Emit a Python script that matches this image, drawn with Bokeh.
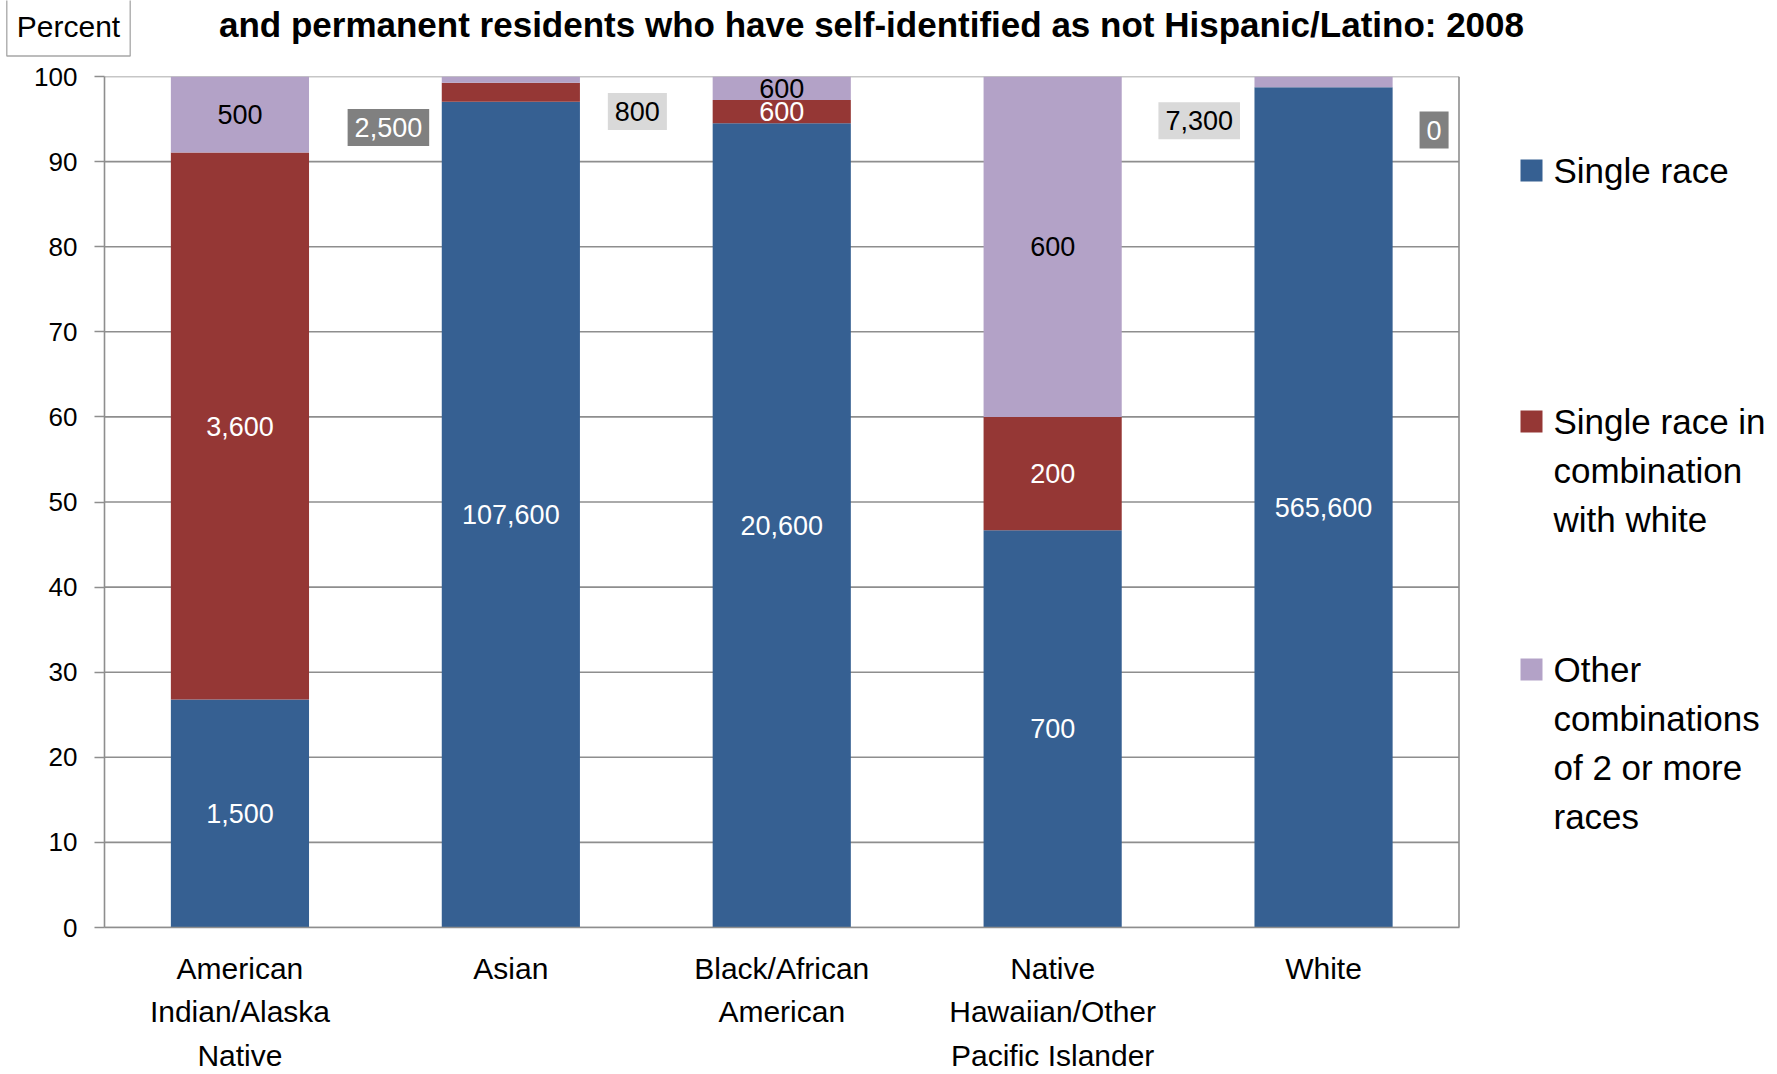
from bokeh.plotting import figure
from bokeh.layouts import column
from bokeh.models import Range1d, FixedTicker, ColumnDataSource
from bokeh.core.properties import value
from bokeh.embed import file_html
from bokeh.resources import INLINE

# ---------------- data ----------------
categories = ["American\nIndian/Alaska\nNative", "Asian", "Black/African\nAmerican",
              "Native\nHawaiian/Other\nPacific Islander", "White"]
single_race = [1500, 107600, 20600, 700, 565600]
combo_white = [3600, 2500, 600, 200, 0]
other_combos = [500, 800, 600, 600, 7300]
series_names = ["Single race", "Single race in\ncombination\nwith white",
                "Other\ncombinations\nof 2 or more\nraces"]
y_ticks = [0, 10, 20, 30, 40, 50, 60, 70, 80, 90, 100]
title_text = "and permanent residents who have self-identified as not Hispanic/Latino: 2008"
y_unit_text = "Percent"

# ---------------- style ----------------
colors = ["#366092", "#953735", "#B3A2C7"]
label_colors = ["white", "white", "black"]
FONT = "Liberation Sans"
GRID = "#8E8E8E"
W, H = 1777, 1074
HEADER = 62
F_LEFT, F_RIGHT, F_TOP, F_BOT = 104, 1777, 76, 927   # page pixels
N = len(categories)
PX_X = 270.9                      # pixels per category
X_END = N + (F_RIGHT - (F_LEFT + N * PX_X)) / PX_X
PX_Y = (F_BOT - F_TOP) / 100.0


def dx(px):
    return (px - F_LEFT) / PX_X


def dy(py):
    return (F_BOT - py) / PX_Y


# callout (boxed) labels: (category index, series index) -> (x offset, y, box colour, text colour)
callouts = {
    (1, 1): (-0.452, 94.0, "#808080", "white"),
    (1, 2): (0.467, 95.9, "#D9D9D9", "black"),
    (4, 2): (-0.459, 94.8, "#D9D9D9", "black"),
    (4, 1): (0.408, 93.7, "#808080", "white"),
}

# ---------------- compute stacks ----------------
series = [single_race, combo_white, other_combos]
totals = [sum(v) for v in zip(*series)]
pct = [[c / t * 100.0 for c, t in zip(s, totals)] for s in series]
xs = [i + 0.5 for i in range(N)]

HM = H - HEADER
p = figure(width=W, height=HM, output_backend="svg", toolbar_location=None,
           x_range=Range1d(0, X_END), y_range=Range1d(0, 100),
           min_border_left=F_LEFT, min_border_right=0, min_border_top=F_TOP - HEADER,
           min_border_bottom=H - F_BOT, outline_line_color=None)
p.frame_align = False
p.xgrid.grid_line_color = None
p.ygrid.grid_line_color = None

# gridlines & right border (only across the plotting area)
p.segment(x0=[0] * len(y_ticks), x1=[N] * len(y_ticks), y0=y_ticks, y1=y_ticks,
          line_color=GRID, line_width=1.6)
p.segment(x0=[N], x1=[N], y0=[0], y1=[100], line_color=GRID, line_width=1.6)

bottom = [0.0] * N
seg_lbl = dict(x=[], y=[], text=[], color=[])
box_lbl = dict(x=[], y=[], text=[], color=[], fill=[])
for k, (vals, col) in enumerate(zip(pct, colors)):
    top = [b + v for b, v in zip(bottom, vals)]
    p.vbar(x=xs, bottom=bottom, top=top, width=0.51, fill_color=col, line_color=None)
    for i in range(N):
        txt = f"{series[k][i]:,}"
        if (i, k) in callouts:
            ox, yy, fc, tc = callouts[(i, k)]
            box_lbl["x"].append(xs[i] + ox)
            box_lbl["y"].append(yy)
            box_lbl["text"].append(txt)
            box_lbl["color"].append(tc)
            box_lbl["fill"].append(fc)
        else:
            seg_lbl["x"].append(xs[i])
            seg_lbl["y"].append((bottom[i] + top[i]) / 2)
            seg_lbl["text"].append(txt)
            seg_lbl["color"].append(label_colors[k])
    bottom = top

p.text(x="x", y="y", text="text", text_color="color", source=ColumnDataSource(seg_lbl),
       text_font=value(FONT), text_font_size="27px", text_align="center",
       text_baseline="middle")
p.text(x="x", y="y", text="text", text_color="color", source=ColumnDataSource(box_lbl),
       text_font=value(FONT), text_font_size="27px", text_align="center",
       text_baseline="middle", background_fill_color="fill", padding=(7, 9))

# axes
p.yaxis.ticker = FixedTicker(ticks=y_ticks)
p.yaxis.axis_line_color = GRID
p.yaxis.axis_line_width = 1.6
p.yaxis.major_tick_line_color = GRID
p.yaxis.major_tick_line_width = 1.6
p.yaxis.major_tick_out = 10
p.yaxis.major_tick_in = 0
p.yaxis.minor_tick_line_color = None
p.yaxis.major_label_standoff = 17
p.yaxis.major_label_text_font = FONT
p.yaxis.major_label_text_font_size = "26px"
p.yaxis.major_label_text_color = "black"

p.xaxis.ticker = FixedTicker(ticks=xs)
p.xaxis.major_label_overrides = {x: c for x, c in zip(xs, categories)}
p.xaxis.bounds = (0, N)
p.xaxis.axis_line_color = GRID
p.xaxis.axis_line_width = 1.6
p.xaxis.major_tick_line_color = None
p.xaxis.minor_tick_line_color = None
p.xaxis.major_label_standoff = 18
p.xaxis.major_label_text_font = FONT
p.xaxis.major_label_text_font_size = "30px"
p.xaxis.major_label_text_line_height = 1.325
p.xaxis.major_label_text_color = "black"

# legend (manual, to the right of the plot area)
legend_first_line_px = [170, 421, 669]
LINE_PX = 49
for k, name in enumerate(series_names):
    y0 = legend_first_line_px[k]
    p.rect(x=[dx(1531)], y=[dy(y0)], width=22, height=22, width_units="screen",
           height_units="screen", fill_color=colors[k], line_color=None)
    lines = name.split("\n")
    p.text(x=[dx(1553)] * len(lines), y=[dy(y0 + j * LINE_PX) for j in range(len(lines))],
           text=lines, text_font=value(FONT), text_font_size="35px", text_color="black",
           text_align="left", text_baseline="middle")

# header strip: title & unit box (page-pixel coordinates)
hd = figure(width=W, height=HEADER, output_backend="svg", toolbar_location=None,
            x_range=Range1d(0, W), y_range=Range1d(HEADER, 0),
            x_axis_type=None, y_axis_type=None, min_border=0, outline_line_color=None)
hd.frame_align = False
hd.xgrid.grid_line_color = None
hd.ygrid.grid_line_color = None
hd.text(x=[871], y=[24], text=[title_text], text_font=value(FONT), text_font_size="35px",
        text_font_style="bold", text_align="center", text_baseline="middle",
        text_color="black")
hd.text(x=[68], y=[26], text=[y_unit_text], text_font=value(FONT), text_font_size="30px",
        text_align="center", text_baseline="middle", text_color="black",
        background_fill_color="white", border_line_color="#A6A6A6", border_line_width=1.3,
        padding=(10, 13))

layout = column(hd, p, spacing=0)
open("out.html", "w").write(file_html(layout, INLINE))
